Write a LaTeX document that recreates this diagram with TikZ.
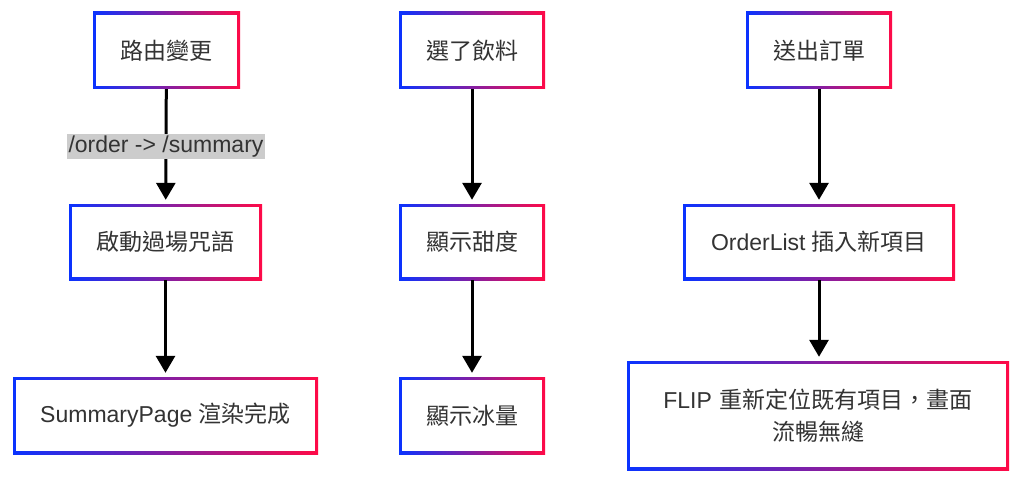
\documentclass[tikz,border=0pt]{standalone}
\usepackage{fontspec}
\setmainfont{Liberation Sans}
\newfontfamily\cjk{Noto Sans CJK TC}
\usetikzlibrary{arrows.meta}
\definecolor{gblue}{HTML}{0A33FF}
\definecolor{gred}{HTML}{FF0A47}
\definecolor{txt}{HTML}{333333}
\definecolor{lblbg}{HTML}{CCCCCC}
\tikzset{
  gbox/.style={rectangle, inner sep=0pt, align=center, text=txt,
    font=\fontsize{23}{32}\selectfont,
    left color=gblue, right color=gred,
    path picture={\fill[white] ([shift={(3pt,3pt)}]path picture bounding box.south west) rectangle ([shift={(-3pt,-3pt)}]path picture bounding box.north east);}},
  flow/.style={line width=3pt, black, -{Triangle[length=17pt,width=19pt]}, shorten >=4pt},
  lbl/.style={fill=lblbg, text=txt, inner sep=2pt, font=\fontsize{23}{26}\selectfont}
}
\begin{document}
\begin{tikzpicture}[x=1pt,y=-1pt]
\useasboundingbox (0,0) rectangle (1024,484);
% column 1
\node[gbox, minimum width=147pt, minimum height=77pt] (a1) at (166.5,50.5) {\cjk 路由變更};
\node[gbox, minimum width=193pt, minimum height=76pt] (a2) at (165.5,242) {\cjk 啟動過場咒語};
\node[gbox, minimum width=305pt, minimum height=77pt] (a3) at (165.5,415.5) {SummaryPage {\cjk 渲染完成}};
% column 2
\node[gbox, minimum width=146pt, minimum height=77pt] (b1) at (472,50.5) {\cjk 選了飲料};
\node[gbox, minimum width=146pt, minimum height=76pt] (b2) at (472,242) {\cjk 顯示甜度};
\node[gbox, minimum width=146pt, minimum height=77pt] (b3) at (472,415.5) {\cjk 顯示冰量};
% column 3
\node[gbox, minimum width=146pt, minimum height=77pt] (c1) at (819,50.5) {\cjk 送出訂單};
\node[gbox, minimum width=272pt, minimum height=76pt] (c2) at (819,242) {OrderList {\cjk 插入新項目}};
\node[gbox, minimum width=382pt, minimum height=109pt, text width=370pt] (c3) at (818,415.5) {FLIP {\cjk 重新定位既有項目，畫面}\\{\cjk 流暢無縫}};
% connectors
\draw[flow] (a1) -- node[lbl] (l1) {/order -> /summary} (a2);
\draw[flow] (a2) -- (a3);
\draw[flow] (b1) -- (b2);
\draw[flow] (b2) -- (b3);
\draw[flow] (c1) -- (c2);
\draw[flow] (c2.south) -- (c2.south |- c3.north);
\end{tikzpicture}
\end{document}
